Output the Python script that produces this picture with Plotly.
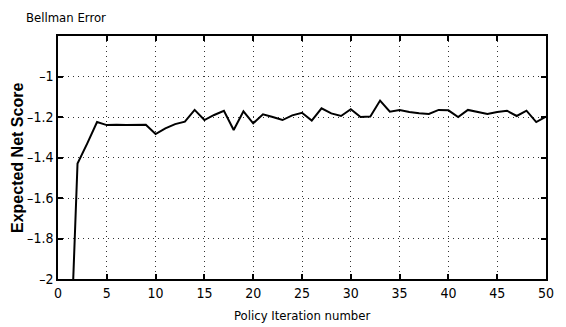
import plotly.graph_objects as go

iterations = list(range(1, 51))
net_score = [
    -2.73, -1.43, -1.33, -1.225, -1.24, -1.238, -1.24, -1.24, -1.238, -1.284,
    -1.256, -1.235, -1.223, -1.165, -1.215, -1.19, -1.169, -1.264, -1.172, -1.231,
    -1.187, -1.20, -1.215, -1.192, -1.179, -1.218, -1.157, -1.182, -1.195, -1.162,
    -1.20, -1.198, -1.119, -1.174, -1.165, -1.175, -1.182, -1.185, -1.165, -1.167,
    -1.20, -1.165, -1.174, -1.185, -1.175, -1.169, -1.195, -1.169, -1.225, -1.198,
]
x_ticks = [0, 5, 10, 15, 20, 25, 30, 35, 40, 45, 50]
y_ticks = [-2, -1.8, -1.6, -1.4, -1.2, -1]
y_tick_labels = ["\u20132", "\u20131.8", "\u20131.6", "\u20131.4", "\u20131.2", "\u20131"]

narrow = "DejaVu Sans Condensed, Liberation Sans Narrow, Arial Narrow, sans-serif"

fig = go.Figure()
fig.add_trace(go.Scatter(
    x=iterations, y=net_score, mode="lines",
    line=dict(color="black", width=2),
    cliponaxis=True, showlegend=False,
))

axis_common = dict(
    showline=True, linecolor="black", linewidth=1.5, mirror="allticks",
    ticks="inside", ticklen=5, tickcolor="black", tickwidth=1.5,
    showgrid=True, gridcolor="#333333", griddash="1px,4px", gridwidth=1,
    zeroline=False, tickfont=dict(family=narrow, size=14, color="black"),
)

fig.update_xaxes(range=[0, 50], tickvals=x_ticks, **axis_common)
fig.update_yaxes(range=[-2, -0.8], tickvals=y_ticks, ticktext=y_tick_labels, **axis_common)

fig.update_layout(
    width=566, height=327,
    margin=dict(l=58, r=18, t=36, b=48),
    paper_bgcolor="white", plot_bgcolor="white",
    annotations=[
        dict(text="Bellman Error", x=0.016, y=1.078, xref="paper", yref="paper",
             xanchor="center", yanchor="middle", showarrow=False,
             font=dict(family=narrow, size=13, color="black")),
        dict(text="Policy Iteration number", x=0.5, y=-0.15, xref="paper", yref="paper",
             xanchor="center", yanchor="middle", showarrow=False,
             font=dict(family=narrow, size=13, color="black")),
        dict(text="<b>Expected Net Score</b>", x=-0.083, y=0.5, xref="paper", yref="paper",
             xanchor="center", yanchor="middle", showarrow=False, textangle=-90,
             font=dict(family="Liberation Sans, Arial, sans-serif", size=16, color="black")),
    ],
)

fig.write_html("out.html")
